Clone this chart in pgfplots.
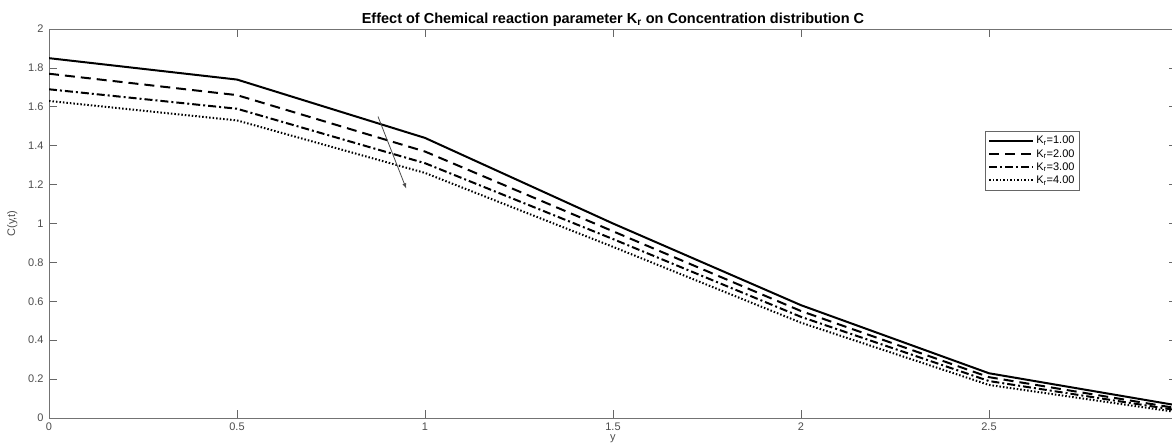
\documentclass[border=0pt]{standalone}
\usepackage{pgfplots}
\pgfplotsset{compat=1.18}
\usepackage{fontspec}
\setmainfont{Liberation Sans}
\begin{document}
\begin{tikzpicture}
\begin{axis}[
  name=ax,
  at={(0,0)}, anchor=south west,
  scale only axis,
  width=1128pt, height=389pt,
  xmin=0, xmax=3, ymin=0, ymax=2,
  xtick={0,0.5,1,1.5,2,2.5,3},
  ytick={0,0.2,0.4,0.6,0.8,1,1.2,1.4,1.6,1.8,2},
  yticklabels={0,0.2,0.4,0.6,0.8,1,1.2,1.4,1.6,1.8,2},
  xticklabels={0,0.5,1,1.5,2,2.5,},
  tick align=inside,
  major tick length=8pt,
  tick style={color=black!60, line width=0.6pt},
  axis line style={color=black!55, line width=0.8pt},
  ticklabel style={font=\fontsize{11}{12}\selectfont, color=black!70},
  xticklabel style={yshift=-1pt},
  yticklabel style={xshift=-2pt},
  /pgf/number format/assume math mode=true,
  xlabel={y}, ylabel={C(y,t)},
  xlabel style={font=\fontsize{11}{12}\selectfont, color=black!70,
    at={(axis description cs:0.5,0)}, anchor=north, yshift=-13pt},
  ylabel style={font=\fontsize{11}{12}\selectfont, color=black!70,
    at={(axis description cs:0,0.5)}, anchor=south, xshift=0pt, yshift=28pt},
  title={\bfseries Effect of Chemical reaction parameter K\textsubscript{r} on Concentration distribution C},
  title style={font=\fontsize{14.5}{16}\selectfont, yshift=-7pt},
  legend style={at={(0.83,0.738)}, anchor=north west, font=\fontsize{11}{12}\selectfont,
    draw=black!60, line width=0.5pt, row sep=0pt, inner sep=3pt},
  legend cell align=left,
  legend image code/.code={\draw[#1, line width=1.8pt] (0pt,0pt) -- (44pt,0pt);},
  every axis plot/.append style={line width=2pt, black},
]
\addplot[solid] coordinates {(0,1.85) (0.5,1.74) (1,1.44) (1.5,1.00) (2,0.58) (2.5,0.23) (3,0.065)};
\addlegendentry{K\textsubscript{r}=1.00}
\addplot[dash pattern=on 10pt off 6pt] coordinates {(0,1.77) (0.5,1.66) (1,1.37) (1.5,0.96) (2,0.55) (2.5,0.21) (3,0.05)};
\addlegendentry{K\textsubscript{r}=2.00}
\addplot[dash pattern=on 8pt off 3pt on 2pt off 3pt] coordinates {(0,1.69) (0.5,1.59) (1,1.31) (1.5,0.92) (2,0.52) (2.5,0.19) (3,0.04)};
\addlegendentry{K\textsubscript{r}=3.00}
\addplot[dash pattern=on 1.5pt off 2pt] coordinates {(0,1.63) (0.5,1.53) (1,1.26) (1.5,0.88) (2,0.49) (2.5,0.17) (3,0.03)};
\addlegendentry{K\textsubscript{r}=4.00}
\draw[-latex, black!70, line width=0.8pt] (axis cs:0.875,1.55) -- (axis cs:0.95,1.18);
\end{axis}
\pgfresetboundingbox
\useasboundingbox (-49pt,-28pt) rectangle (1123pt,418pt);
\end{tikzpicture}
\end{document}
